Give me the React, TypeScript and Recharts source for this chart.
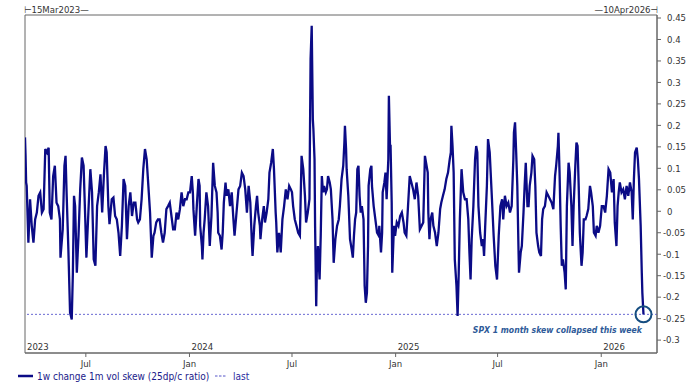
import React from 'react';
import { LineChart, Line, XAxis, YAxis, ReferenceLine, ReferenceDot, ReferenceArea } from 'recharts';

// Day offsets counted from 15 Mar 2023; value = 1w change in 1m vol skew (25dp/c ratio)
const mar2023_dec2023: [number, number][] = [
  [0,0.172],[1,0.129],[2,0.067],[3,0.059],[6,-0.073],[9,0.028],[12,-0.034],[15,-0.073],[18,-0.019],[21,-0.003],
  [24,0.036],[27,0.044],[30,-0.003],[33,0.005],[36,0.145],[39,0.137],[42,0.148],[44,-0.003],[47,-0.019],[50,0.082],
  [53,0.106],[56,0.020],[59,0.012],[62,-0.019],[63,-0.108],[67,-0.042],[70,0.106],[72,0.129],[74,0.036],[77,-0.089],
  [80,-0.236],[83,-0.252],[85,-0.143],[87,0.036],[89,0.012],[92,-0.143],[95,-0.057],[98,0.051],[101,0.125],[104,0.106],
  [107,-0.019],[109,-0.108],[113,0.012],[116,0.098],[119,0.044],[122,-0.112],[125,-0.127],[128,0.012],[131,0.044],[134,0.086],
  [137,-0.003],[140,0.082],[143,0.152],[145,0.137],[148,0.012],[150,-0.030],[154,0.028],[157,0.032],[160,-0.011],[163,-0.019],
  [166,-0.050],[169,-0.104],[172,-0.034],[175,0.075],[178,0.059],[181,-0.065],[184,0.012],[187,0.044],[190,-0.011],[193,0.020],
  [196,0.020],[199,-0.019],[201,-0.026],[204,-0.019],[207,0.028],[210,0.098],[213,0.145],[216,0.121],[219,0.059],[222,-0.003],
  [225,-0.108],[228,-0.057],[230,-0.050],[233,-0.026],[236,-0.019],[239,-0.019],[242,-0.050],[245,-0.073],[248,-0.050],[251,0.005],
  [254,0.012],[257,0.020],[260,-0.011],[263,-0.042],[266,-0.042],[269,-0.003],[272,-0.019],[275,0.005],[278,0.044],[281,0.012],
  [284,0.028],[287,0.028],[290,0.044],
];

const jan2024_sep2024: [number, number][] = [
  [293,0.044],[296,0.082],[298,0.044],[299,0.005],[302,-0.057],[305,0.012],[308,0.075],[310,0.059],[311,-0.034],[314,-0.081],
  [315,-0.112],[317,-0.050],[319,-0.019],[322,0.044],[325,0.012],[328,-0.081],[331,-0.011],[334,0.113],[337,0.059],[340,0.044],
  [342,-0.003],[343,-0.050],[346,-0.057],[349,-0.089],[351,-0.050],[353,0.020],[356,0.067],[358,0.036],[361,0.051],[364,0.012],
  [367,0.044],[370,-0.019],[372,-0.057],[375,-0.011],[379,0.051],[382,0.059],[385,0.090],[388,0.082],[391,0.051],[394,-0.003],
  [397,0.059],[400,0.020],[403,-0.081],[404,-0.104],[407,-0.034],[410,0.012],[412,0.036],[414,-0.003],[417,-0.034],[418,-0.065],
  [421,-0.019],[424,0.012],[426,-0.026],[429,-0.003],[432,0.028],[434,0.090],[437,0.113],[440,0.145],[442,0.098],[445,-0.003],
  [446,-0.026],[448,-0.096],[451,-0.050],[452,-0.065],[454,-0.096],[457,-0.019],[460,0.012],[463,0.051],[466,0.028],[469,0.059],
  [472,0.051],[474,0.044],[476,0.012],[479,-0.019],[482,-0.034],[485,-0.050],[488,-0.057],[491,0.129],[494,0.098],[497,0.036],
  [499,-0.026],[502,-0.003],[505,0.028],[507,0.354],[509,0.432],[511,0.214],[512,0.191],[514,0.121],[515,-0.034],[517,-0.221],
  [518,-0.143],[520,-0.081],[523,-0.159],[525,-0.057],[527,0.082],[529,0.044],[531,0.059],[534,0.044],[536,0.051],[538,0.082],
  [541,0.067],[543,0.051],[546,-0.019],[548,-0.120],[551,-0.065],[554,-0.034],[557,-0.019],[559,0.012],
];

const sep2024_jun2025: [number, number][] = [
  [562,0.075],[565,0.106],[567,0.160],[568,0.199],[570,0.145],[571,0.098],[574,0.036],[577,-0.065],[580,-0.089],[582,-0.108],
  [584,-0.057],[586,-0.019],[588,-0.003],[590,0.098],[592,0.106],[594,0.036],[596,-0.003],[598,0.012],[601,-0.019],[603,-0.174],
  [605,-0.213],[607,-0.190],[609,-0.081],[610,0.059],[613,0.098],[615,0.106],[616,0.059],[619,0.012],[622,-0.019],[625,-0.050],
  [628,-0.057],[629,-0.034],[632,-0.096],[634,-0.050],[635,0.044],[638,0.067],[640,0.090],[642,0.028],[645,0.121],[646,0.269],
  [648,0.152],[649,0.152],[651,0.020],[652,-0.143],[655,-0.034],[657,-0.057],[660,-0.026],[663,-0.034],[666,-0.011],[669,-0.003],
  [672,-0.026],[674,-0.050],[677,-0.057],[680,0.012],[683,0.082],[686,0.067],[689,0.051],[692,0.028],[695,0.067],[698,0.036],
  [701,-0.042],[704,-0.034],[707,-0.026],[710,0.129],[712,0.113],[715,0.090],[716,-0.003],[718,-0.065],[720,-0.019],[723,-0.003],
  [725,-0.034],[728,-0.050],[731,-0.081],[734,-0.050],[737,0.005],[739,0.020],[742,0.036],[745,0.051],[748,0.075],[751,0.090],
  [754,0.121],[756,0.137],[757,0.199],[759,0.152],[761,0.090],[763,-0.112],[766,-0.174],[768,-0.244],[770,-0.143],[772,-0.019],
  [775,0.098],[778,0.044],[781,0.028],[784,0.028],[787,-0.019],[789,-0.096],[791,-0.159],[793,-0.065],[796,0.012],[799,0.121],
  [801,0.152],[803,0.137],[805,0.012],[808,-0.050],[811,-0.081],[813,-0.065],[815,-0.104],[817,-0.034],[820,0.059],[822,0.168],
  [825,0.137],
];

const jun2025_mar2026: [number, number][] = [
  [829,0.028],[832,-0.057],[835,-0.127],[838,-0.159],[841,-0.057],[844,0.012],[847,0.028],[849,-0.019],[852,0.036],[855,0.012],
  [858,0.020],[861,-0.003],[864,0.012],[867,0.121],[868,0.183],[870,0.207],[872,0.137],[874,0.059],[876,-0.081],[877,-0.143],
  [880,-0.096],[882,-0.081],[885,-0.003],[887,0.059],[889,0.113],[892,0.012],[894,0.012],[896,0.059],[899,0.090],[901,0.129],
  [904,0.121],[906,0.059],[908,-0.050],[911,-0.081],[913,-0.096],[916,-0.104],[918,-0.019],[920,0.005],[923,0.012],[926,0.044],
  [929,0.036],[932,0.028],[935,0.020],[938,0.005],[941,0.082],[943,0.106],[946,0.152],[947,0.183],[949,0.090],[951,-0.034],
  [953,-0.127],[955,-0.112],[958,-0.143],[960,-0.182],[962,0.012],[965,0.113],[967,0.090],[970,0.012],[972,-0.081],[974,0.012],
  [977,0.106],[979,0.160],[981,0.152],[983,0.059],[985,-0.050],[988,-0.127],[990,-0.096],[992,-0.019],[995,-0.019],[997,-0.011],
  [1000,0.005],[1003,0.059],[1005,0.044],[1008,0.012],[1010,-0.050],[1013,-0.057],[1015,-0.034],[1018,-0.050],[1021,-0.034],[1024,0.012],
  [1027,0.012],[1030,-0.003],[1033,0.036],[1036,0.098],[1039,0.090],[1042,0.044],[1045,0.075],[1047,-0.026],[1050,-0.081],[1052,0.012],
  [1054,0.044],[1056,0.067],[1059,0.044],[1062,0.051],[1065,0.028],[1068,0.059],[1071,0.036],[1074,0.067],[1077,0.044],[1079,-0.019],
  [1081,0.075],[1083,0.137],[1086,0.148],[1088,0.121],[1090,0.075],[1093,-0.034],[1095,-0.143],[1096,-0.190],[1098,-0.240],
];

const xTicks = [0, 108, 292, 474, 658, 839, 1023];
const monthLabels = ['', 'Jul', 'Jan', 'Jul', 'Jan', 'Jul', 'Jan'];
const yearLabels = ['2023', '', '2024', '', '2025', '', '2026'];
const yTicks = [-0.3, -0.25, -0.2, -0.15, -0.1, -0.05, 0, 0.05, 0.1, 0.15, 0.2, 0.25, 0.3, 0.35, 0.4, 0.45];
const startLabel = '15Mar2023';
const endLabel = '10Apr2026';
const seriesName = '1w change 1m vol skew (25dp/c ratio)';
const lastName = 'last';
const annotation = 'SPX 1 month skew collapsed this week';
const lastValue = -0.24;
const lastDay = 1098;

const data = [...mar2023_dec2023, ...jan2024_sep2024, ...sep2024_jun2025, ...jun2025_mar2026].map(([day, v]) => ({ day, v }));

const FONT = "Tahoma, 'DejaVu Sans Condensed', 'DejaVu Sans', sans-serif";
const FRAME = '#666666';
const NAVY = '#0b0b86';
const TXT = '#333333';

const XTick = (props: any) => {
  const { x, y, payload } = props;
  const i = xTicks.indexOf(payload.value);
  return (
    <g>
      {payload.value !== 0 && <line x1={x} x2={x} y1={y} y2={y + 4} stroke={FRAME} />}
      {monthLabels[i] && (
        <text x={x} y={y + 14} textAnchor="middle" fontSize={9.5} fontFamily={FONT} fill={TXT}>{monthLabels[i]}</text>
      )}
      {yearLabels[i] && (
        <text x={x + 2} y={y - 3} textAnchor="start" fontSize={9.5} fontFamily={FONT} fill={TXT}>{yearLabels[i]}</text>
      )}
    </g>
  );
};

const fmt = (v: number) => (Math.abs(v) < 1e-9 ? '0' : String(parseFloat(v.toFixed(2))));

const YTick = (props: any) => {
  const { x, y, payload } = props;
  const v = payload.value as number;
  return (
    <g>
      <line x1={x} x2={x + 4} y1={y} y2={y} stroke={FRAME} />
      <text x={x + (v < 0 ? 6 : 10)} y={y} dy="0.35em" textAnchor="start" fontSize={9.5} fontFamily={FONT} fill={TXT}>{fmt(v)}</text>
    </g>
  );
};

export default function App() {
  return (
    <div style={{ position: 'absolute', left: 0, top: 0, width: 700, height: 392, background: '#fff' }}>
      <LineChart width={700} height={392} data={data} margin={{ top: 15, right: 0, bottom: 19, left: 25 }}>
        <XAxis
          dataKey="day"
          type="number"
          domain={[0, 1122]}
          ticks={xTicks}
          interval={0}
          tick={<XTick />}
          tickLine={false}
          tickSize={0}
          tickMargin={0}
          height={20}
          axisLine={{ stroke: FRAME }}
          allowDataOverflow
        />
        <YAxis
          orientation="right"
          type="number"
          domain={[-0.33, 0.457]}
          ticks={yTicks}
          interval={0}
          tick={<YTick />}
          tickLine={false}
          tickSize={0}
          tickMargin={0}
          width={43}
          axisLine={{ stroke: FRAME }}
          allowDataOverflow
        />
        <ReferenceArea x1={0} x2={1122} y1={-0.33} y2={0.457} fill="none" stroke={FRAME} ifOverflow="visible" />
        <ReferenceLine y={lastValue} stroke="#6a6ad2" strokeDasharray="2 2" strokeWidth={1} />
        <Line
          type="linear"
          dataKey="v"
          stroke={NAVY}
          strokeWidth={2.3}
          dot={false}
          isAnimationActive={false}
        />
        <ReferenceDot x={lastDay} y={lastValue} r={8} fill="none" stroke="#154d80" strokeWidth={2} />
      </LineChart>
      <svg width={700} height={392} style={{ position: 'absolute', left: 0, top: 0, pointerEvents: 'none' }}>
        <text x={24} y={13} fontSize={9.5} fontFamily={FONT} fill={TXT}>{'⊢' + startLabel + '—'}</text>
        <text x={658} y={13} textAnchor="end" fontSize={9.5} fontFamily={FONT} fill={TXT}>{'—' + endLabel + '⊣'}</text>
        <text x={642} y={333} textAnchor="end" fontSize={8.6} fontStyle="italic" fontWeight="bold" fontFamily={FONT} fill="#2e5a98">{annotation}</text>
        <line x1={18} x2={33} y1={376} y2={376} stroke={NAVY} strokeWidth={2.5} />
        <text x={37} y={379.5} fontSize={10} fontFamily={FONT} fill="#1a1a8a">{seriesName}</text>
        <line x1={215} x2={227} y1={376} y2={376} stroke="#5555c8" strokeWidth={1} strokeDasharray="2.5 1.5" />
        <text x={233} y={379.5} fontSize={10} fontFamily={FONT} fill="#2b2ba0">{lastName}</text>
      </svg>
    </div>
  );
}
